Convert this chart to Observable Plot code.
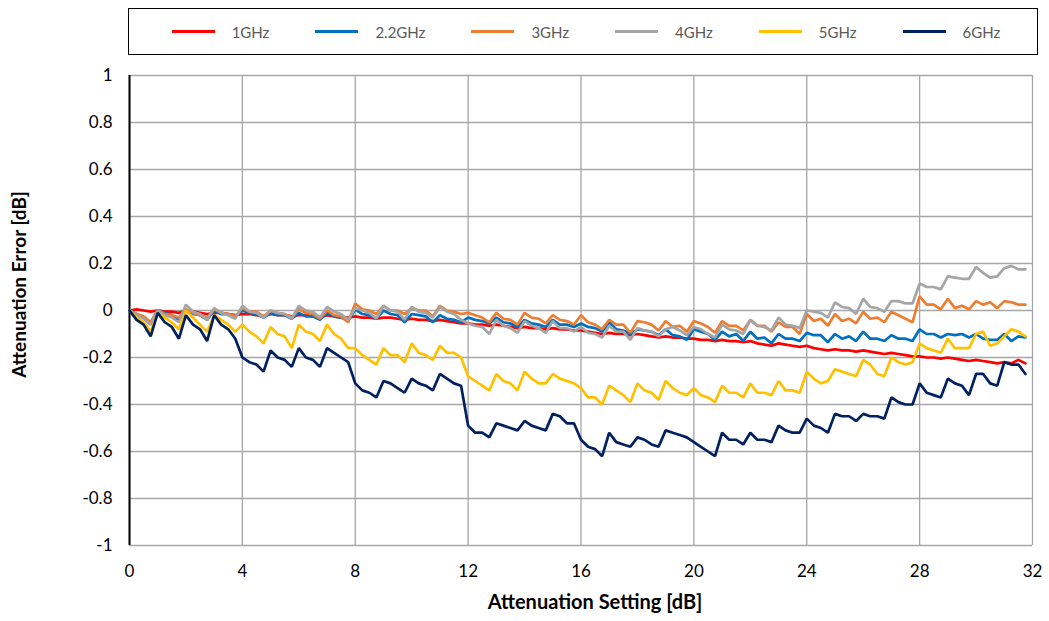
<!DOCTYPE html>
<html>
<head>
<meta charset="utf-8">
<script src="https://cdn.jsdelivr.net/npm/d3@7"></script>
<script src="https://cdn.jsdelivr.net/npm/@observablehq/plot@0.6"></script>
<style>
  body { margin: 0; background: #fff; font-family: Lato, "Liberation Sans", sans-serif; }
  #legend { position: relative; width: 1049px; height: 62px; }
  #legend .box { position: absolute; left: 128px; top: 8px; width: 902px; height: 45px; border: 1.5px solid #000;
    display: flex; align-items: center; justify-content: center; gap: 46px; padding-left: 6px; box-sizing: content-box; }
  #legend .item { display: flex; align-items: center; font-size: 15px; color: #595959; }
  #legend .sw { width: 43px; height: 3px; margin-right: 17px; }
</style>
</head>
<body>
<div id="legend"><div class="box"></div></div>
<div id="chart"></div>
<script>
// Attenuation settings (dB), 0.25 dB steps
const settings = d3.range(128).map(i => i * 0.25);

const seriesNames = ["1GHz", "2.2GHz", "3GHz", "4GHz", "5GHz", "6GHz"];
const seriesColors = ["#FF0000", "#0070C0", "#ED7D31", "#A5A5A5", "#FFC000", "#002060"];

const err1GHz = [
  0, 0.005, 0, -0.005,   0, -0.005, -0.005, -0.01,   0, -0.005, -0.01, -0.015,   -0.01, -0.01, -0.015, -0.02,
  -0.015, -0.015, -0.02, -0.025,   -0.015, -0.02, -0.02, -0.025,   -0.02, -0.02, -0.025, -0.03,   -0.02, -0.025, -0.03, -0.03,
  -0.025, -0.03, -0.03, -0.035,   -0.03, -0.03, -0.035, -0.04,   -0.035, -0.04, -0.04, -0.045,   -0.04, -0.045, -0.05, -0.055,
  -0.055, -0.06, -0.06, -0.065,   -0.06, -0.065, -0.07, -0.075,   -0.07, -0.075, -0.075, -0.08,   -0.075, -0.08, -0.08, -0.085,
  -0.085, -0.09, -0.095, -0.1,   -0.095, -0.1, -0.1, -0.105,   -0.1, -0.105, -0.11, -0.115,   -0.11, -0.115, -0.115, -0.12,
  -0.12, -0.125, -0.125, -0.13,   -0.125, -0.13, -0.13, -0.135,   -0.13, -0.14, -0.145, -0.15,   -0.14, -0.145, -0.15, -0.155,
  -0.15, -0.16, -0.165, -0.17,   -0.165, -0.17, -0.17, -0.175,   -0.17, -0.175, -0.18, -0.185,   -0.18, -0.185, -0.19, -0.195,
  -0.195, -0.2, -0.2, -0.205,   -0.2, -0.205, -0.21, -0.215,   -0.21, -0.215, -0.22, -0.225,   -0.22, -0.225, -0.21, -0.225
];
const err2_2GHz = [
  0, -0.015, -0.03, -0.05,   0, -0.01, -0.02, -0.04,   0, -0.015, -0.02, -0.04,   0, -0.015, -0.015, -0.025,
  0, -0.01, -0.015, -0.03,   -0.01, -0.02, -0.02, -0.035,   -0.01, -0.025, -0.025, -0.04,   -0.01, -0.025, -0.03, -0.045,
  0.005, -0.015, -0.02, -0.035,   0, -0.015, -0.02, -0.05,   -0.015, -0.02, -0.025, -0.05,   -0.02, -0.035, -0.04, -0.05,
  -0.03, -0.04, -0.045, -0.055,   -0.03, -0.05, -0.055, -0.07,   -0.04, -0.055, -0.06, -0.07,   -0.04, -0.06, -0.06, -0.07,
  -0.055, -0.07, -0.075, -0.09,   -0.05, -0.08, -0.085, -0.1,   -0.08, -0.085, -0.09, -0.105,   -0.08, -0.105, -0.11, -0.125,
  -0.08, -0.09, -0.1, -0.125,   -0.09, -0.11, -0.1, -0.13,   -0.09, -0.12, -0.115, -0.14,   -0.1, -0.12, -0.12, -0.13,
  -0.095, -0.105, -0.105, -0.135,   -0.1, -0.12, -0.11, -0.13,   -0.09, -0.12, -0.12, -0.13,   -0.105, -0.12, -0.12, -0.13,
  -0.08, -0.1, -0.1, -0.115,   -0.1, -0.105, -0.1, -0.115,   -0.1, -0.12, -0.125, -0.125,   -0.1, -0.13, -0.11, -0.115
];
const err3GHz = [
  0, -0.015, -0.025, -0.05,   0, -0.015, -0.02, -0.03,   0.005, -0.01, -0.02, -0.03,   0.005, -0.01, -0.015, -0.025,
  0.01, -0.005, -0.005, -0.025,   0, -0.01, -0.015, -0.03,   0.005, -0.01, -0.015, -0.035,   0, -0.02, -0.025, -0.05,
  0.03, 0.005, 0, -0.015,   0.02, 0, 0, -0.015,   0.01, 0, 0, -0.025,   0.02, 0, -0.005, -0.015,
  -0.01, -0.02, -0.03, -0.05,   -0.01, -0.035, -0.04, -0.06,   -0.01, -0.03, -0.035, -0.055,   -0.02, -0.04, -0.045, -0.06,
  -0.02, -0.05, -0.06, -0.08,   -0.04, -0.06, -0.06, -0.095,   -0.045, -0.05, -0.06, -0.085,   -0.045, -0.07, -0.065, -0.09,
  -0.045, -0.055, -0.07, -0.095,   -0.045, -0.065, -0.065, -0.085,   -0.04, -0.065, -0.065, -0.09,   -0.05, -0.07, -0.07, -0.1,
  -0.015, -0.045, -0.035, -0.065,   -0.015, -0.045, -0.035, -0.055,   -0.005, -0.035, -0.03, -0.05,   -0.005, -0.02, -0.035, -0.05,
  0.06, 0.025, 0.025, 0.005,   0.05, 0.01, 0.02, 0.005,   0.04, 0.025, 0.035, 0.01,   0.04, 0.035, 0.025, 0.025
];
const err4GHz = [
  0, -0.02, -0.035, -0.06,   0, -0.02, -0.03, -0.05,   0.025, -0.005, -0.015, -0.04,   0.01, -0.01, -0.02, -0.035,
  0.02, -0.005, -0.01, -0.03,   0, -0.01, -0.015, -0.035,   0.02, 0, -0.005, -0.03,   0.015, -0.005, -0.015, -0.04,
  0.01, 0, -0.01, -0.035,   0.02, 0, -0.005, -0.04,   0.015, -0.005, -0.01, -0.03,   0.015, -0.005, -0.015, -0.04,
  -0.055, -0.065, -0.07, -0.1,   -0.04, -0.065, -0.075, -0.095,   -0.045, -0.065, -0.075, -0.095,   -0.045, -0.075, -0.075, -0.09,
  -0.07, -0.095, -0.1, -0.115,   -0.065, -0.09, -0.09, -0.125,   -0.075, -0.085, -0.09, -0.11,   -0.08, -0.07, -0.085, -0.105,
  -0.07, -0.08, -0.1, -0.115,   -0.06, -0.08, -0.085, -0.1,   -0.04, -0.065, -0.07, -0.085,   -0.03, -0.06, -0.065, -0.075,
  0, -0.005, -0.01, -0.03,   0.035, 0.015, 0.01, -0.015,   0.05, 0.015, 0.01, -0.005,   0.04, 0.04, 0.03, 0.03,
  0.115, 0.1, 0.1, 0.09,   0.145, 0.14, 0.135, 0.135,   0.185, 0.16, 0.14, 0.145,   0.18, 0.19, 0.175, 0.175
];
const err5GHz = [
  0, -0.03, -0.05, -0.09,   -0.01, -0.03, -0.05, -0.08,   0, -0.03, -0.06, -0.09,   -0.02, -0.04, -0.06, -0.09,
  -0.06, -0.09, -0.11, -0.14,   -0.07, -0.1, -0.11, -0.16,   -0.06, -0.09, -0.1, -0.13,   -0.06, -0.1, -0.12, -0.16,
  -0.16, -0.19, -0.21, -0.23,   -0.16, -0.19, -0.19, -0.22,   -0.14, -0.18, -0.19, -0.21,   -0.15, -0.18, -0.18, -0.2,
  -0.28, -0.3, -0.32, -0.34,   -0.27, -0.3, -0.31, -0.34,   -0.26, -0.29, -0.31, -0.31,   -0.27, -0.29, -0.3, -0.31,
  -0.33, -0.37, -0.37, -0.4,   -0.32, -0.34, -0.36, -0.39,   -0.31, -0.34, -0.35, -0.38,   -0.3, -0.33, -0.35, -0.36,
  -0.33, -0.36, -0.37, -0.39,   -0.32, -0.35, -0.35, -0.37,   -0.31, -0.35, -0.35, -0.36,   -0.3, -0.34, -0.34, -0.35,
  -0.26, -0.29, -0.31, -0.3,   -0.25, -0.26, -0.27, -0.28,   -0.21, -0.23, -0.27, -0.28,   -0.2, -0.22, -0.23, -0.22,
  -0.14, -0.16, -0.17, -0.18,   -0.12, -0.16, -0.16, -0.16,   -0.1, -0.09, -0.15, -0.14,   -0.11, -0.08, -0.09, -0.11
];
const err6GHz = [
  0, -0.04, -0.06, -0.11,   -0.01, -0.05, -0.07, -0.12,   -0.02, -0.06, -0.08, -0.13,   -0.02, -0.06, -0.08, -0.12,
  -0.2, -0.22, -0.23, -0.26,   -0.17, -0.2, -0.21, -0.24,   -0.16, -0.2, -0.21, -0.24,   -0.16, -0.18, -0.2, -0.22,
  -0.31, -0.34, -0.35, -0.37,   -0.3, -0.31, -0.33, -0.35,   -0.29, -0.31, -0.32, -0.34,   -0.27, -0.29, -0.31, -0.32,
  -0.49, -0.52, -0.52, -0.54,   -0.48, -0.49, -0.5, -0.51,   -0.47, -0.49, -0.5, -0.51,   -0.44, -0.45, -0.48, -0.48,
  -0.55, -0.58, -0.59, -0.62,   -0.52, -0.56, -0.57, -0.58,   -0.54, -0.55, -0.57, -0.58,   -0.51, -0.52, -0.53, -0.54,
  -0.56, -0.58, -0.6, -0.62,   -0.52, -0.55, -0.55, -0.57,   -0.52, -0.55, -0.55, -0.56,   -0.49, -0.51, -0.52, -0.52,
  -0.46, -0.49, -0.5, -0.52,   -0.44, -0.45, -0.45, -0.47,   -0.44, -0.45, -0.45, -0.46,   -0.37, -0.39, -0.4, -0.4,
  -0.31, -0.35, -0.36, -0.37,   -0.29, -0.31, -0.32, -0.36,   -0.27, -0.27, -0.31, -0.32,   -0.22, -0.23, -0.23, -0.27
];

const xTicks = [0, 4, 8, 12, 16, 20, 24, 28, 32];
const yTicks = [-1, -0.8, -0.6, -0.4, -0.2, 0, 0.2, 0.4, 0.6, 0.8, 1];
const yTickLabels = ["-1", "-0.8", "-0.6", "-0.4", "-0.2", "0", "0.2", "0.4", "0.6", "0.8", "1"];

const allSeries = [err1GHz, err2_2GHz, err3GHz, err4GHz, err5GHz, err6GHz];
const rows = [];
seriesNames.forEach((name, s) => {
  allSeries[s].forEach((v, i) => rows.push({series: name, setting: settings[i], error: v}));
});

// Legend
const box = document.querySelector("#legend .box");
seriesNames.forEach((name, i) => {
  const it = document.createElement("div");
  it.className = "item";
  it.innerHTML = `<span class="sw" style="background:${seriesColors[i]}"></span><span>${name}</span>`;
  box.appendChild(it);
});

const chart = Plot.plot({
  width: 1049,
  height: 559,
  marginTop: 13,
  marginBottom: 76,
  marginLeft: 129,
  marginRight: 17,
  style: {fontFamily: "Lato, 'Liberation Sans', sans-serif", fontSize: "17px", color: "#000", background: "#fff"},
  x: {domain: [0, 32]},
  y: {domain: [-1, 1]},
  color: {domain: seriesNames, range: seriesColors},
  marks: [
    Plot.gridX(xTicks, {stroke: "#A6A6A6", strokeOpacity: 1, strokeWidth: 1.3}),
    Plot.gridY(yTicks, {stroke: "#A6A6A6", strokeOpacity: 1, strokeWidth: 1.3}),
    Plot.axisX(xTicks, {tickSize: 0, tickPadding: 19, label: null, fontSize: 17, tickFormat: d => String(d)}),
    Plot.axisY(yTicks, {tickSize: 0, tickPadding: 17, label: null, fontSize: 17, tickFormat: d => yTickLabels[yTicks.indexOf(d)]}),
    Plot.ruleX([0], {stroke: "#000", strokeWidth: 2}),
    Plot.line(rows, {x: "setting", y: "error", z: "series", stroke: "series", strokeWidth: 2.7, strokeLinejoin: "miter"}),
    Plot.text(["Attenuation Error [dB]"], {frameAnchor: "left", dx: -110, dy: -26, rotate: -90, textAnchor: "middle", fontWeight: "bold", fontSize: 19}),
    Plot.text(["Attenuation Setting [dB]"], {frameAnchor: "bottom", dx: 14, dy: 63, textAnchor: "middle", fontWeight: "bold", fontSize: 20})
  ]
});
document.getElementById("chart").appendChild(chart);
</script>
</body>
</html>
